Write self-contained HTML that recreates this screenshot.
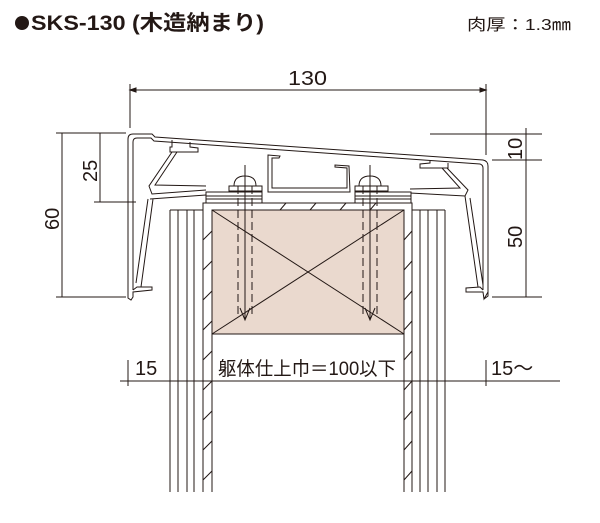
<!DOCTYPE html>
<html><head><meta charset="utf-8"><style>
body{margin:0;background:#fff;width:600px;height:523px;overflow:hidden}
svg{display:block}
text{font-family:"Liberation Sans","Noto Sans CJK JP",sans-serif;fill:#231815}
</style></head><body>
<svg width="600" height="523" viewBox="0 0 600 523" stroke="#231815" fill="none" stroke-width="1">
<circle cx="22" cy="23" r="7" fill="#231815" stroke="none"/>
<text x="31" y="30" font-size="21" font-weight="bold" stroke="none" textLength="233" lengthAdjust="spacingAndGlyphs">SKS-130 (木造納まり)</text>
<text x="467" y="30" font-size="16" stroke="none" textLength="104" lengthAdjust="spacingAndGlyphs">肉厚：1.3㎜</text>
<line x1="130" y1="90" x2="486" y2="90"/>
<line x1="130" y1="84" x2="130" y2="128"/>
<line x1="486" y1="84" x2="486" y2="155"/>
<path d="M130 90 l6 -2 v4z M486 90 l-6 -2 v4z" fill="#231815"/>
<text x="288" y="85" font-size="20" stroke="none" textLength="39" lengthAdjust="spacingAndGlyphs">130</text>
<line x1="62" y1="133" x2="62" y2="297"/>
<line x1="56" y1="133" x2="126" y2="133"/>
<line x1="56" y1="297" x2="126" y2="297"/>
<line x1="100" y1="133" x2="100" y2="202"/>
<line x1="94" y1="202" x2="136" y2="202"/>
<text x="0" y="0" font-size="20" stroke="none" transform="translate(59,230) rotate(-90)">60</text>
<text x="0" y="0" font-size="20" stroke="none" transform="translate(97,182) rotate(-90)">25</text>
<line x1="430" y1="134" x2="542" y2="134"/>
<line x1="492" y1="160" x2="542" y2="160"/>
<line x1="492" y1="297" x2="542" y2="297"/>
<line x1="526" y1="128" x2="526" y2="297"/>
<text x="0" y="0" font-size="20" stroke="none" transform="translate(522,160) rotate(-90)">10</text>
<text x="0" y="0" font-size="20" stroke="none" transform="translate(522,248) rotate(-90)">50</text>
<line x1="120" y1="381" x2="560" y2="381"/>
<line x1="128" y1="360" x2="128" y2="386"/>
<line x1="486" y1="360" x2="486" y2="386"/>
<text x="135" y="375" font-size="20" stroke="none">15</text>
<text x="491" y="375" font-size="20" stroke="none">15～</text>
<text x="218" y="375" font-size="19" stroke="none" textLength="178" lengthAdjust="spacingAndGlyphs">躯体仕上巾＝100以下</text>
<rect x="212" y="210" width="192" height="124" fill="#ead9ce"/>
<line x1="212" y1="210" x2="404" y2="334"/><line x1="404" y1="210" x2="212" y2="334"/>
<g>
<line x1="170" y1="210" x2="170" y2="492"/><line x1="178" y1="210" x2="178" y2="492"/>
<line x1="187" y1="210" x2="187" y2="492"/><line x1="194" y1="210" x2="194" y2="492"/>
<line x1="203" y1="210" x2="203" y2="492"/><line x1="212" y1="210" x2="212" y2="492"/>
<line x1="404" y1="210" x2="404" y2="492"/><line x1="412" y1="210" x2="412" y2="492"/>
<line x1="420" y1="210" x2="420" y2="492"/><line x1="428" y1="210" x2="428" y2="492"/>
<line x1="437" y1="210" x2="437" y2="492"/><line x1="445" y1="210" x2="445" y2="492"/>
<line x1="170" y1="210" x2="203" y2="210"/><line x1="412" y1="210" x2="445" y2="210"/>
<path d="M203 210 L203 203 L412 203 L412 210"/>
<path d="M203 240 l9 -9 M203 270 l9 -9 M203 300 l9 -9 M203 330 l9 -9 M203 360 l9 -9 M203 390 l9 -9 M203 420 l9 -9 M203 450 l9 -9 M203 480 l9 -9 M404 240 l8 -9 M404 270 l8 -9 M404 300 l8 -9 M404 330 l8 -9 M404 360 l8 -9 M404 390 l8 -9 M404 420 l8 -9 M404 450 l8 -9 M404 480 l8 -9 M280 210 l6 -7 M310 210 l6 -7 M340 210 l6 -7 M370 210 l6 -7"/>
</g>
<path d="M128 292 L128 139 Q128 134 133 134 L152 134 L155 137 L483 160 Q488 161 488 166 L488 296 L484 299"/>
<path d="M133 290 L133 142 Q133 138 137 138 L151 138 L154 141 L480 164 Q483 165 483 168 L483 290"/>
<path d="M128 292 L128 298 L131 300 L133 297 L133 292 L152 290 L152 287 L137 287 L133 290"/>
<path d="M488 292 L484 299 L483 292 L466 292 L466 288 L480 287 L483 290"/>
<path d="M172 140 L172 147 L170 147 L170 152 L198 152 L198 148 L190 147 L190 142"/>
<path d="M172 152 L149 186 L152 194 L206 190 M177 152 L155 185 L206 186"/>
<path d="M150 199 L206 195 M148 199 L136 283 M153 199 L141 287"/>
<path d="M448 163 L448 168 L420 168 L420 164 L430 163 L430 160"/>
<path d="M447 168 L468 190 L465 196 L410 193 M442 168 L460 188 L410 189"/>
<path d="M465 196 L478 287 M470 198 L483 285"/>
<path d="M268 155 L280 156 L279 158 L272 158 L272 188 L347 188 L347 168 L335 167 L335 165 L349 166 L350 192 L268 192 Z" fill="#fff"/>
<g fill="#fff">
<rect x="206" y="192" width="56" height="11"/><rect x="355" y="192" width="56" height="11"/>
<line x1="206" y1="196" x2="262" y2="196"/><line x1="206" y1="199" x2="262" y2="199"/>
<line x1="355" y1="196" x2="411" y2="196"/><line x1="355" y1="199" x2="411" y2="199"/>
<rect x="229" y="186" width="33" height="5"/><rect x="355" y="186" width="33" height="5"/>
<path d="M234 186 Q234 176 245 176 Q256 176 256 186Z"/><path d="M359 186 Q359 176 370 176 Q381 176 381 186Z"/>
</g>
<g stroke-dasharray="8 4">
<line x1="238" y1="186" x2="238" y2="315"/><line x1="252" y1="186" x2="252" y2="315"/>
<line x1="363" y1="186" x2="363" y2="315"/><line x1="377" y1="186" x2="377" y2="315"/>
</g>
<line x1="245" y1="165" x2="245" y2="320"/><line x1="370" y1="165" x2="370" y2="320"/>
<path d="M240 308 L245 320 L250 308 M365 308 L370 320 L375 308"/>
</svg>
</body></html>
